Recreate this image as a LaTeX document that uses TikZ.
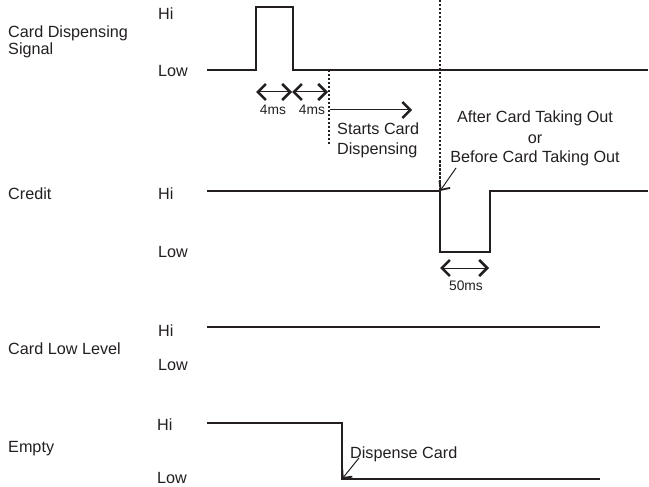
\documentclass[tikz,border=0pt]{standalone}
\usepackage{fontspec}
\setmainfont{Liberation Sans}
\usetikzlibrary{arrows.meta, positioning}
\definecolor{ink}{HTML}{231F20}
\tikzset{
    wave/.style={line width=2pt, color=ink, line join=miter},
    marker/.style={dash pattern=on 2.5pt off 1.5pt, line width=1.3pt, color=ink},
    dimarrow/.style={{Straight Barb[length=8pt,width=16pt,line width=2.6pt]}-{Straight Barb[length=8pt,width=16pt,line width=2.6pt]}, line width=1pt, color=ink},
    pointer/.style={-{Straight Barb[length=7pt,width=13pt,line width=1.8pt]}, line width=1pt, color=ink},
    bigpointer/.style={-{Straight Barb[length=8pt,width=16pt,line width=2.4pt]}, line width=1pt, color=ink},
    txt/.style={inner sep=0pt, font=\fontsize{16.2}{19}\selectfont, text=ink},
    mstxt/.style={inner sep=0pt, font=\fontsize{13.8}{16}\selectfont, text=ink}
}

\begin{document}
\begin{tikzpicture}[x=1pt, y=-1pt]
    \useasboundingbox (0,0) rectangle (649,487);

    % =========================================================================
    % SIGNAL NAMES AND LEVELS
    % =========================================================================
    \node[txt, anchor=base west] (cds1) at (8,38) {Card Dispensing};
    \node[txt, anchor=base west] (cds2) at (8,55) {Signal};
    \node[txt, anchor=base west] (credit) at (8,199) {Credit};
    \node[txt, anchor=base west] (cll) at (8,354) {Card Low Level};
    \node[txt, anchor=base west] (empty) at (8,452) {Empty};

    \node[txt, anchor=base west] (hiA) at (158,20) {Hi};
    \node[txt, anchor=base west] (lowA) at (158,77) {Low};
    \node[txt, anchor=base west] (hiB) at (158,200) {Hi};
    \node[txt, anchor=base west] (lowB) at (158,257) {Low};
    \node[txt, anchor=base west] (hiC) at (158,336) {Hi};
    \node[txt, anchor=base west] (lowC) at (158,370) {Low};
    \node[txt, anchor=base west] (hiD) at (157,430) {Hi};
    \node[txt, anchor=base west] (lowD) at (157,483) {Low};

    % =========================================================================
    % CARD DISPENSING SIGNAL
    % =========================================================================
    \coordinate (pulse_up) at (256,70);
    \coordinate (pulse_down) at (293,70);
    \coordinate (start_disp) at (329,70);
    \draw[wave] (207,70) -- (pulse_up) -- (256,7) -- (293,7) -- (pulse_down) -- (648,70);

    % Dashed markers
    \draw[marker] (start_disp) -- (329,146);
    \coordinate (take_out) at (440,191);
    \draw[marker] (440,0) -- (take_out);

    % 4ms spans
    \coordinate (spanA) at (256,92);
    \coordinate (spanB) at (292,92);
    \coordinate (spanC) at (328,92);
    \draw[dimarrow] (spanA) -- (spanB);
    \draw[dimarrow] (spanB) -- (spanC);
    \node[mstxt, anchor=base] (msA) at (273,115) {4ms};
    \node[mstxt, anchor=base] (msB) at (312,115) {4ms};

    % Starts card dispensing
    \coordinate (go_from) at (330,110);
    \coordinate (go_to) at (412,110);
    \draw[bigpointer] (go_from) -- (go_to);
    \node[txt, anchor=base west] (starts1) at (337,135) {Starts Card};
    \node[txt, anchor=base west] (starts2) at (337,155) {Dispensing};

    % =========================================================================
    % CREDIT
    % =========================================================================
    \draw[wave] (207,191) -- (take_out) -- (440,252) -- (490,252) -- (490,191) -- (648,191);

    \node[txt, anchor=base] (after) at (535,123) {After Card Taking Out};
    \node[txt, anchor=base] (orlbl) at (535,143) {or};
    \node[txt, anchor=base] (before) at (535,163) {Before Card Taking Out};
    \coordinate (after_tail) at (456,168);
    \draw[pointer] (after_tail) -- (take_out);

    % 50ms span
    \coordinate (spanD) at (440,268);
    \coordinate (spanE) at (489,268);
    \draw[dimarrow] (spanD) -- (spanE);
    \node[mstxt, anchor=base] (msC) at (466,290) {50ms};

    % =========================================================================
    % CARD LOW LEVEL
    % =========================================================================
    \draw[wave] (207,327) -- (600,327);

    % =========================================================================
    % EMPTY
    % =========================================================================
    \coordinate (drop) at (342,479);
    \draw[wave] (207,423) -- (342,423) -- (drop) -- (600,479);
    \node[txt, anchor=base west] (dispense) at (350,458) {Dispense Card};
    \coordinate (disp_tail) at (359,458);
    \draw[pointer] (disp_tail) -- (drop);

\end{tikzpicture}
\end{document}
